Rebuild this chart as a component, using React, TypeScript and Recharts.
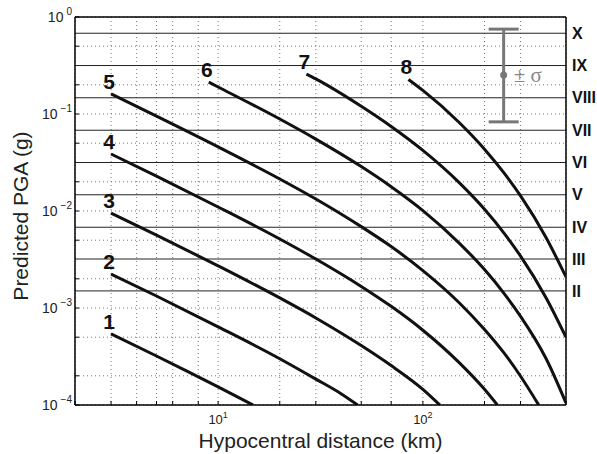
import { ComposedChart, Line, Scatter, ErrorBar, LabelList, XAxis, YAxis, CartesianGrid, ReferenceLine } from 'recharts';

// predicted PGA (g) vs hypocentral distance (km), one curve per magnitude
const curveM1 = [[3, 5.4e-4], [5, 3.2e-4], [7, 2.25e-4], [10, 1.54e-4], [14.8, 1.0e-4]];
const curveM2 = [[3, 2.24e-3], [5, 1.33e-3], [10, 6.4e-4], [20, 3.0e-4], [30, 1.85e-4], [40, 1.3e-4], [48, 1.0e-4]];
const curveM3 = [[3, 9.5e-3], [5, 5.65e-3], [10, 2.72e-3], [20, 1.27e-3], [30, 7.9e-4], [50, 4.1e-4], [70, 2.55e-4], [100, 1.45e-4], [121, 1.0e-4]];
const curveM4 = [[3, 0.0387], [5, 0.0229], [10, 0.011], [20, 5.15e-3], [30, 3.2e-3], [50, 1.67e-3], [70, 1.04e-3], [100, 5.9e-4], [150, 2.75e-4], [200, 1.45e-4], [231, 1.0e-4]];
const curveM5 = [[3, 0.161], [5, 0.095], [10, 0.0458], [20, 0.0214], [30, 0.0133], [50, 6.9e-3], [70, 4.3e-3], [100, 2.43e-3], [150, 1.14e-3], [200, 6.0e-4], [250, 3.4e-4], [300, 1.98e-4], [368, 1.0e-4]];
const curveM6 = [[9, 0.213], [10, 0.19], [20, 0.0887], [30, 0.0551], [50, 0.0287], [70, 0.0178], [100, 0.0101], [150, 4.7e-3], [200, 2.49e-3], [250, 1.4e-3], [300, 8.2e-4], [400, 3.0e-4], [500, 1.05e-4]];
const curveM7 = [[27, 0.258], [30, 0.23], [50, 0.12], [70, 0.0743], [100, 0.0421], [150, 0.0197], [200, 0.0104], [250, 5.85e-3], [300, 3.43e-3], [400, 1.27e-3], [500, 5.0e-4]];
const curveM8 = [[85, 0.227], [100, 0.175], [150, 0.0822], [200, 0.0434], [250, 0.0244], [300, 0.0143], [400, 5.3e-3], [500, 2.09e-3]];

const curves = [curveM1, curveM2, curveM3, curveM4, curveM5, curveM6, curveM7, curveM8];
const magnitudes = ['1', '2', '3', '4', '5', '6', '7', '8'];

// intensity thresholds (g) and their labels
const intensityLevels = [0.0015, 0.0032, 0.0068, 0.0147, 0.0316, 0.068, 0.147, 0.316, 0.68];
const intensityLabels = ['II', 'III', 'IV', 'V', 'VI', 'VII', 'VIII', 'IX', 'X'];

// ± sigma marker
const sigmaPoint = { d: 248, pga: 0.252 };
const sigmaLow = 0.083;
const sigmaHigh = 0.75;

const xTicks = [2, 3, 4, 5, 6, 7, 8, 9, 10, 20, 30, 40, 50, 60, 70, 80, 90, 100, 200, 300, 400, 500];
const xDecades = [10, 100];
const yTicks = [
  1e-4, 2e-4, 3e-4, 4e-4, 5e-4, 6e-4, 7e-4, 8e-4, 9e-4,
  1e-3, 2e-3, 3e-3, 4e-3, 5e-3, 6e-3, 7e-3, 8e-3, 9e-3,
  1e-2, 2e-2, 3e-2, 4e-2, 5e-2, 6e-2, 7e-2, 8e-2, 9e-2,
  1e-1, 2e-1, 3e-1, 4e-1, 5e-1, 6e-1, 7e-1, 8e-1, 9e-1, 1,
];
const yDecades = [1e-4, 1e-3, 1e-2, 1e-1, 1];

const FONT = 'Liberation Sans, Arial, Helvetica, sans-serif';

const YTick = ({ x, y, payload }: any) => {
  if (!yDecades.includes(payload.value)) return null;
  const exp = Math.round(Math.log10(payload.value));
  return (
    <text x={x} y={y + 5} textAnchor="end" fontSize={14} fontFamily={FONT} fill="#222">
      10
      <tspan dx={3} dy={-7} fontSize={10}>{exp === 0 ? '0' : `\u2212${-exp}`}</tspan>
    </text>
  );
};

const XTick = ({ x, y, payload }: any) => {
  if (!xDecades.includes(payload.value)) return null;
  const exp = Math.round(Math.log10(payload.value));
  return (
    <text x={x} y={y + 19} textAnchor="middle" fontSize={13} fontFamily={FONT} fill="#222">
      10
      <tspan dy={-6} fontSize={9}>{exp}</tspan>
    </text>
  );
};

const magLabel = (text: string) => (props: any) => {
  if (props.index !== 0) return null;
  return (
    <text x={props.x - 2} y={props.y - 5} textAnchor="middle" fontSize={21} fontWeight="bold" fontFamily={FONT} fill="#111">
      {text}
    </text>
  );
};

const App = () => {
  const series = curves.map((c) => c.map(([d, pga]) => ({ d, pga })));
  const sigmaData = [{ ...sigmaPoint, err: [sigmaPoint.pga - sigmaLow, sigmaHigh - sigmaPoint.pga] }];

  return (
    <div style={{ position: 'absolute', left: 0, top: 0, width: 597, height: 454, background: '#fff' }}>
      <ComposedChart width={597} height={454} margin={{ top: 17, right: 31, left: 0, bottom: 0 }}>
        <CartesianGrid strokeDasharray="1 3" stroke="#777" strokeWidth={1} />
        <XAxis
          type="number"
          dataKey="d"
          scale="log"
          domain={[2, 500]}
          ticks={xTicks}
          allowDataOverflow
          height={49}
          tickLine={{ stroke: '#000' }}
          tickSize={-4}
          tickMargin={4}
          tick={<XTick />}
          axisLine={{ stroke: '#000', strokeWidth: 1.5 }}
          label={{ value: 'Hypocentral distance (km)', position: 'insideBottom', offset: 6, fontSize: 21, fontFamily: FONT, fill: '#222' }}
        />
        <YAxis
          type="number"
          dataKey="pga"
          scale="log"
          domain={[1e-4, 1]}
          ticks={yTicks}
          allowDataOverflow
          width={75}
          tickLine={{ stroke: '#000' }}
          tickSize={-4}
          tickMargin={7}
          tick={<YTick />}
          axisLine={{ stroke: '#000', strokeWidth: 1.5 }}
          label={{
            content: ({ viewBox }: any) => {
              const cx = viewBox.x + 28;
              const cy = viewBox.y + viewBox.height / 2 + 5;
              return (
                <text x={cx} y={cy} transform={`rotate(-90, ${cx}, ${cy})`} textAnchor="middle" fontSize={21} fontFamily={FONT} fill="#222">
                  Predicted PGA (g)
                </text>
              );
            },
          }}
        />
        {intensityLevels.map((lvl, i) => (
          <ReferenceLine
            key={lvl}
            y={lvl}
            stroke="#222"
            strokeWidth={1}
            label={{ value: intensityLabels[i], position: 'right', offset: 6, fontSize: 16, fontWeight: 'bold', fontFamily: FONT, fill: '#111' }}
          />
        ))}
        <ReferenceLine y={1} stroke="#000" strokeWidth={1.5} />
        <ReferenceLine x={500} stroke="#000" strokeWidth={1.5} />
        {series.map((s, i) => (
          <Line
            key={magnitudes[i]}
            data={s}
            dataKey="pga"
            type="monotone"
            stroke="#111"
            strokeWidth={3}
            dot={false}
            isAnimationActive={false}
          >
            <LabelList content={magLabel(magnitudes[i])} />
          </Line>
        ))}
        <Scatter
          data={sigmaData}
          dataKey="pga"
          fill="#777"
          isAnimationActive={false}
          shape={(p: any) => <circle cx={p.cx} cy={p.cy} r={3.5} fill="#777" />}
        >
          <ErrorBar dataKey="err" direction="y" width={15} strokeWidth={3} stroke="#777" />
          <LabelList
            content={(p: any) => (
              <text x={p.x + p.width / 2 + 10} y={p.y + p.height / 2 + 7} fontSize={21} fontFamily="Liberation Serif, Times New Roman, serif" fill="#888">
                ± σ
              </text>
            )}
          />
        </Scatter>
      </ComposedChart>
    </div>
  );
};

export default App;
